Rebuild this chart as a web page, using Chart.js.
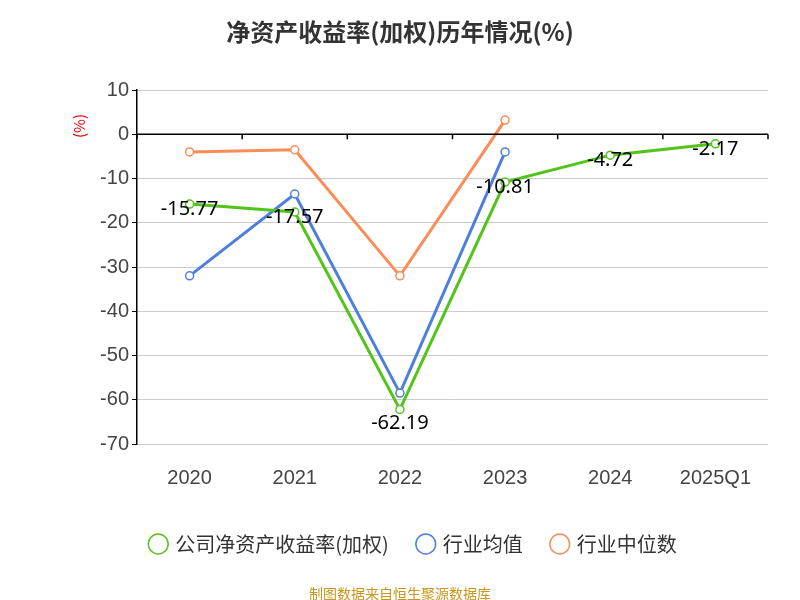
<!DOCTYPE html>
<html><head><meta charset="utf-8">
<script src="https://cdn.jsdelivr.net/npm/chart.js"></script>
<style>body{margin:0;background:#fff}</style>
</head><body>
<canvas id="c" width="800" height="600"></canvas>
<script>
// categories and series
const years = ["2020","2021","2022","2023","2024","2025Q1"];
const companyRoe = [-15.77,-17.57,-62.19,-10.81,-4.72,-2.17];
const industryMean = [-32,-13.5,-58.5,-4,null,null];
const industryMedian = [-4,-3.5,-32,3.2,null,null];

// draw title, unit, footer and value labels
var extras = {
  id:'extras',
  afterDraw:function(chart){
    var ctx = chart.ctx;
    ctx.save();
    ctx.fillStyle='#333';
    ctx.font='bold 24px "Noto Sans CJK SC"';
    ctx.textAlign='center';
    ctx.fillText('净资产收益率(加权)历年情况(%)',400,32);
    ctx.font='14px "Noto Sans CJK SC"';
    ctx.fillStyle='#c8961e';
    ctx.fillText('制图数据来自恒生聚源数据库',400,594);
    ctx.translate(79,126);
    ctx.rotate(-Math.PI/2);
    ctx.fillStyle='#e00';
    ctx.font='15px "Noto Sans CJK SC"';
    ctx.fillText('(%)',0,0);
    ctx.restore();
    ctx.save();
    var meta = chart.getDatasetMeta(0);
    ctx.font='20px "Noto Sans"';
    ctx.fillStyle='#000';
    ctx.textAlign='center';
    meta.data.forEach(function(p,i){
      ctx.fillText(companyRoe[i].toFixed(2),p.x,p.y+(i==2?14:5));
    });
    // zero line
    var y = chart.scales.y.getPixelForValue(0);
    ctx.strokeStyle='#000';ctx.lineWidth=1.5;
    ctx.beginPath();ctx.moveTo(chart.chartArea.left,y);ctx.lineTo(chart.chartArea.right,y);ctx.stroke();
    var xs = chart.scales.x;
    for(var k=0;k<=years.length;k++){
      var xx = xs.left + k*(xs.right-xs.left)/years.length;
      ctx.beginPath();ctx.moveTo(xx,y);ctx.lineTo(xx,y+5);ctx.stroke();
    }
    ctx.restore();
  }
};

function ds(label,data,color){
  return {label:label,data:data,borderColor:color,backgroundColor:'#fff',borderWidth:3,
    pointRadius:4,pointBorderWidth:1.5,pointBackgroundColor:'#fff',pointBorderColor:color,tension:0,spanGaps:false};
}

new Chart(document.getElementById('c'),{
  type:'line',
  data:{labels:years,datasets:[
    ds('公司净资产收益率(加权)',companyRoe,'#52c41a'),
    ds('行业均值',industryMean,'#4e7fdd'),
    ds('行业中位数',industryMedian,'#fb8c55')
  ]},
  options:{
    responsive:false,animation:false,
    layout:{padding:{top:90,right:32,left:60,bottom:36}},
    plugins:{
      legend:{position:'bottom',labels:{usePointStyle:true,pointStyle:'circle',boxWidth:14,boxHeight:14,padding:30,color:'#333',font:{size:20,family:'"Noto Sans CJK SC"'}}},
      tooltip:{enabled:false}
    },
    scales:{
      x:{offset:true,grid:{display:false},border:{display:false},ticks:{color:'#444',font:{size:20},padding:14}},
      y:{min:-70,max:10,ticks:{stepSize:10,color:'#444',font:{size:20}},
        border:{color:'#000',width:1.5},
        grid:{color:'#ccc',tickColor:'#000',tickLength:5,drawTicks:true,borderDash:[6,4]},
        afterFit:function(s){s.width=77;}
      }
    }
  },
  plugins:[extras]
});
</script>
</body></html>
